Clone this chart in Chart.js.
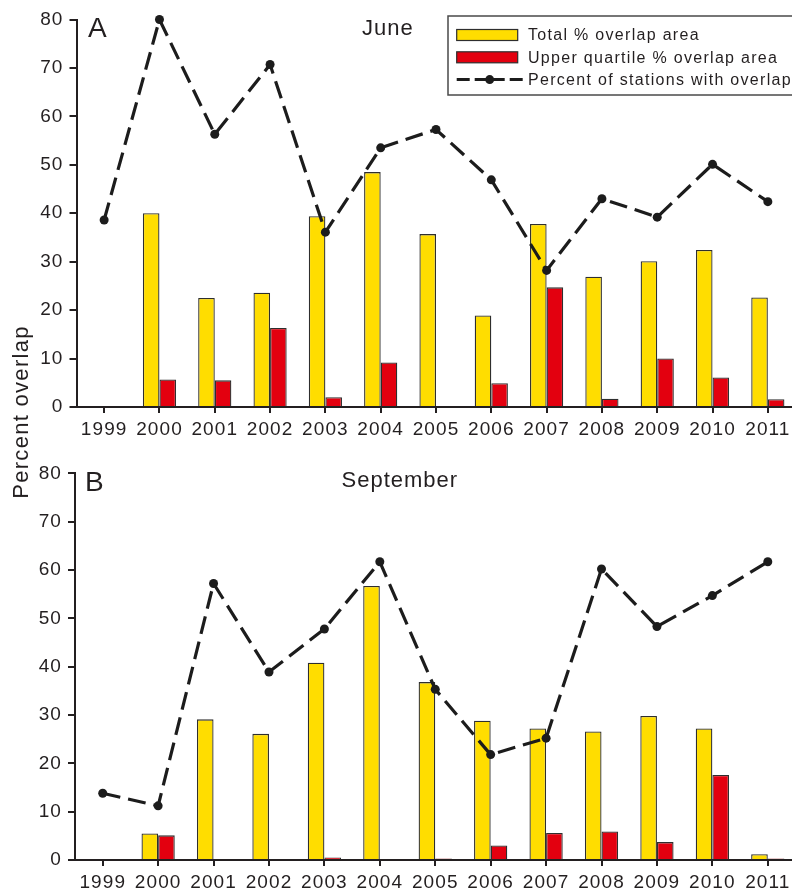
<!DOCTYPE html>
<html>
<head>
<meta charset="utf-8">
<script src="https://cdn.jsdelivr.net/npm/chart.js@4.4.1/dist/chart.umd.min.js"></script>
<style>
  html, body { margin: 0; padding: 0; background: #fff; overflow: hidden; }
  #wrap { position: relative; width: 792px; height: 896px; overflow: hidden; }
  canvas { position: absolute; left: 0; }
  #yTitle {
    position: absolute; left: -79.5px; top: 399px; width: 200px; height: 26px;
    line-height: 26px; text-align: center; transform: rotate(-90deg);
    font-family: 'Liberation Sans', Arial, sans-serif; font-size: 22px;
    letter-spacing: 1.3px; color: #231f20; white-space: nowrap;
  }
</style>
</head>
<body>
<div id="wrap">
  <canvas id="chartJune" width="800" height="445" style="top:0"></canvas>
  <canvas id="chartSep" width="800" height="451" style="top:445px"></canvas>
  <div id="yTitle">Percent overlap</div>
</div>
<script>
// datos
var years = ['1999', '2000', '2001', '2002', '2003', '2004', '2005', '2006', '2007', '2008', '2009', '2010', '2011'];
var yMax = 80;
var yStep = 10;

var juneTotal    = [null, 40.0, 22.5, 23.6, 39.4, 48.5, 35.7, 18.9, 37.8, 26.9, 30.1, 32.4, 22.6];
var juneUpper    = [null, 5.7, 5.5, 16.3, 2.0, 9.2, null, 4.9, 24.7, 1.7, 10.0, 6.1, 1.6];
var juneStations = [38.6, 80.0, 56.3, 70.7, 36.1, 53.5, 57.3, 46.9, 28.2, 43.0, 39.2, 50.1, 42.4];

var sepTotal    = [null, 5.5, 29.1, 26.1, 40.8, 56.7, 36.8, 28.8, 27.2, 26.6, 29.8, 27.2, 1.2];
var sepUpper    = [null, 5.1, null, null, 0.5, null, 0.3, 3.0, 5.6, 5.9, 3.7, 17.6, 0.3];
var sepStations = [13.8, 11.2, 57.2, 38.9, 47.8, 61.7, 35.3, 21.8, 25.2, 60.2, 48.3, 54.7, 61.7];

var labelTotal = 'Total % overlap area';
var labelUpper = 'Upper quartile % overlap area';
var labelStations = 'Percent of stations with overlap';

var ink = '#231f20';
Chart.defaults.font.family = "'Liberation Sans', Arial, sans-serif";
Chart.defaults.color = ink;

// espaciado de letras (el original usa una fuente mas ancha)
var spacingPlugin = {
    id: 'spacing',
    beforeUpdate: function (chart) { chart.ctx.letterSpacing = '1.1px'; },
    beforeDraw: function (chart) { chart.ctx.letterSpacing = '1.1px'; }
};

// letra del panel y mes
var panelText = {
    id: 'panelText',
    afterDraw: function (chart, args, opts) {
        var ctx = chart.ctx;
        ctx.save();
        ctx.fillStyle = ink;
        ctx.textBaseline = 'alphabetic';
        ctx.textAlign = 'left';
        ctx.letterSpacing = '0px';
        ctx.font = "28px 'Liberation Sans', Arial, sans-serif";
        ctx.fillText(opts.letter, opts.letterX, opts.letterY);
        ctx.letterSpacing = '1px';
        ctx.font = "22px 'Liberation Sans', Arial, sans-serif";
        ctx.fillText(opts.month, opts.monthX, opts.monthY);
        ctx.restore();
    }
};

// leyenda con recuadro
var boxLegend = {
    id: 'boxLegend',
    afterDraw: function (chart, args, opts) {
        if (!opts.show) return;
        var ctx = chart.ctx;
        ctx.save();
        ctx.strokeStyle = '#4a4a4a';
        ctx.lineWidth = 1.5;
        ctx.strokeRect(opts.x, opts.y, opts.w, opts.h);
        ctx.font = "16px 'Liberation Sans', Arial, sans-serif";
        ctx.letterSpacing = '1.3px';
        ctx.textBaseline = 'middle';
        ctx.textAlign = 'left';
        chart.data.datasets.forEach(function (ds, i) {
            var cy = opts.y + opts.firstRow + i * opts.rowGap;
            var sx = opts.x + opts.swatchX;
            if (ds.type === 'line') {
                ctx.strokeStyle = ds.borderColor;
                ctx.lineWidth = 3;
                ctx.setLineDash([13, 5, 30, 5]);
                ctx.beginPath();
                ctx.moveTo(sx, cy);
                ctx.lineTo(sx + 66, cy);
                ctx.stroke();
                ctx.setLineDash([]);
                ctx.fillStyle = ds.pointBackgroundColor;
                ctx.beginPath();
                ctx.arc(sx + 33, cy, 4.5, 0, Math.PI * 2);
                ctx.fill();
            } else {
                ctx.fillStyle = ds.backgroundColor;
                ctx.fillRect(sx, cy - 5.5, 61, 11);
                ctx.strokeStyle = ds.borderColor;
                ctx.lineWidth = 1.2;
                ctx.strokeRect(sx, cy - 5.5, 61, 11);
            }
            ctx.fillStyle = ink;
            ctx.fillText(ds.label, opts.x + opts.textX, cy + 1);
        });
        ctx.restore();
    }
};

function makeChart(id, total, upper, stations, area, texts, showLegend) {
    var canvas = document.getElementById(id);
    var H = canvas.height;
    return new Chart(canvas.getContext('2d'), {
        type: 'bar',
        data: {
            labels: years,
            datasets: [{
                label: labelTotal,
                data: total,
                backgroundColor: '#ffdd00',
                borderColor: '#2e2e2e',
                borderWidth: 1.3,
                order: 1
            }, {
                label: labelUpper,
                data: upper,
                backgroundColor: '#e3000f',
                borderColor: '#2e2e2e',
                borderWidth: 1.3,
                order: 1
            }, {
                type: 'line',
                label: labelStations,
                data: stations,
                borderColor: '#1c1c1c',
                borderWidth: 3.2,
                borderDash: [18, 8],
                pointRadius: 4.5,
                pointBackgroundColor: '#1c1c1c',
                pointBorderWidth: 0,
                tension: 0,
                clip: false,
                order: 0
            }]
        },
        options: {
            responsive: false,
            animation: false,
            layout: { padding: { top: area.top, left: 0, right: 0, bottom: 0 } },
            datasets: { bar: { categoryPercentage: 0.6, barPercentage: 1.0 } },
            scales: {
                x: {
                    offset: true,
                    grid: { display: true, drawOnChartArea: false, drawTicks: true, tickLength: 6, offset: false, color: ink, lineWidth: 2 },
                    border: { display: true, color: ink, width: 2 },
                    ticks: { font: { size: 19 }, color: ink, padding: 5, maxRotation: 0, autoSkip: false },
                    afterFit: function (scale) { scale.height = H - area.bottom; }
                },
                y: {
                    min: 0,
                    max: yMax,
                    grid: { display: true, drawOnChartArea: false, drawTicks: true, tickLength: 7, color: ink, lineWidth: 2 },
                    border: { display: true, color: ink, width: 2 },
                    ticks: { stepSize: yStep, font: { size: 19 }, color: ink, padding: 6 },
                    afterFit: function (scale) { scale.width = area.left; }
                }
            },
            plugins: {
                legend: { display: false },
                tooltip: { enabled: false },
                panelText: texts,
                boxLegend: { show: showLegend, x: 448, y: 16, w: 360, h: 79, swatchX: 8.7, textX: 80, firstRow: 19, rowGap: 22.3 }
            }
        },
        plugins: [spacingPlugin, panelText, boxLegend]
    });
}

makeChart('chartJune', juneTotal, juneUpper, juneStations,
    { left: 76.5, top: 19.5, bottom: 407 },
    { letter: 'A', letterX: 88, letterY: 36.5, month: 'June', monthX: 362, monthY: 34.5 },
    true);

makeChart('chartSep', sepTotal, sepUpper, sepStations,
    { left: 75, top: 28.3, bottom: 415 },
    { letter: 'B', letterX: 85, letterY: 45.5, month: 'September', monthX: 341.5, monthY: 41.5 },
    false);
</script>
</body>
</html>
